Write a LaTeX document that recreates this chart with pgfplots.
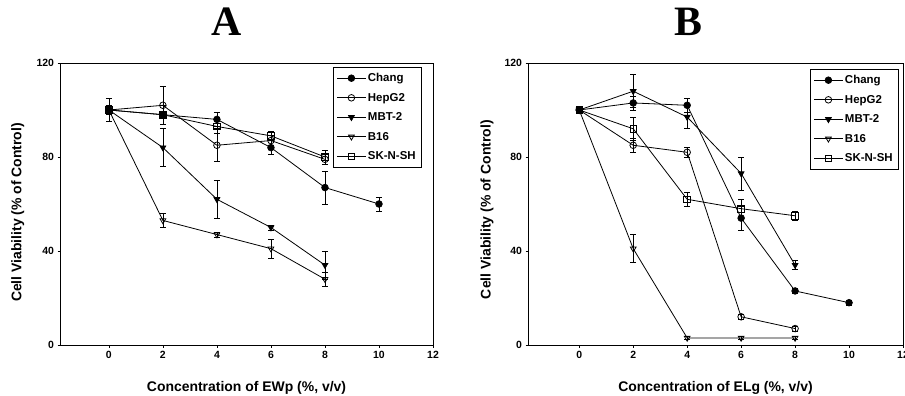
\documentclass[border=0pt]{standalone}
\usepackage{pgfplots}
\pgfplotsset{compat=1.18}
\usepackage{fontspec}
\setmainfont{Liberation Sans}
\newfontfamily\titlefont{Liberation Serif}
\pgfplotsset{
  panel/.style={
    scale only axis, anchor=south west,
    height=282bp, ymin=0, ymax=120, xmax=12,
    ytick={0,40,80,120}, xtick={0,2,4,6,8,10,12},
    xtick pos=left, ytick pos=left,
    axis line style={line width=0.8pt},
    tick align=outside, major tick length=2.5bp,
    tick style={line width=0.7pt, black},
    /pgf/number format/assume math mode=true,
    ticklabel style={font=\fontsize{10.5}{12}\selectfont\bfseries},
    label style={font=\fontsize{14}{16}\selectfont\bfseries},
    title style={font=\titlefont\fontsize{42}{44}\selectfont\bfseries, anchor=center},
    legend style={font=\fontsize{11.5}{13}\selectfont\bfseries, draw=black, line width=0.6pt,
      anchor=north east, cells={anchor=west}, row sep=6bp, inner xsep=4bp, inner ysep=4bp},
    legend cell align=left,
    legend image code/.code={\draw[mark repeat=2,mark phase=2] plot coordinates {(0cm,0cm) (0.5cm,0cm) (1cm,0cm)};},
  },
  ser/.style={black, line width=0.8pt, mark size=3.3bp,
    error bars/y dir=both, error bars/y explicit,
    error bars/error bar style={line width=0.7pt, black},
    error bars/error mark options={rotate=90, mark size=3bp, line width=0.7pt, black}},
}
\begin{document}
\begin{tikzpicture}
\path[use as bounding box] (0,0) rectangle (905bp,396bp);
% Panel A
\begin{axis}[panel, at={(60bp,51bp)}, width=373bp, xmin=-1.81,
  title={A}, title style={at={(0.448,1.124)}},
  xlabel={Concentration of EWp (\%, v/v)},
  ylabel={Cell Viability (\% of Control)},
  xlabel style={at={(axis description cs:0.5,-0.152)}, anchor=center},
  ylabel style={at={(axis description cs:-0.113,0.47)}, anchor=center, rotate=0},
  legend style={at={(rel axis cs:1,1)}, xshift=-11bp, yshift=-4bp}]
\addplot[ser, mark=*] coordinates {(0,100) +- (0,2) (2,98) +- (0,4) (4,96) +- (0,3) (6,84) +- (0,3) (8,67) +- (0,7) (10,60) +- (0,3)};
\addlegendentry{Chang}
\addplot[ser, mark=o, mark options={fill=white}] coordinates {(0,100) +- (0,5) (2,102) +- (0,8) (4,85) +- (0,7) (6,87) +- (0,2) (8,79) +- (0,2)};
\addlegendentry{HepG2}
\addplot[ser, mark=triangle*, mark options={rotate=180}] coordinates {(0,100) +- (0,2) (2,84) +- (0,8) (4,62) +- (0,8) (6,50) +- (0,1) (8,34) +- (0,6)};
\addlegendentry{MBT-2}
\addplot[ser, mark=triangle, mark options={rotate=180, fill=white}] coordinates {(0,100) +- (0,2) (2,53) +- (0,3) (4,47) +- (0,1) (6,41) +- (0,4) (8,28) +- (0,3)};
\addlegendentry{B16}
\addplot[ser, mark=square, mark options={fill=white}] coordinates {(0,100) +- (0,2) (2,98) +- (0,1) (4,93) +- (0,3) (6,89) +- (0,2) (8,80) +- (0,3)};
\addlegendentry{SK-N-SH}
\end{axis}
% Panel B
\begin{axis}[panel, at={(528bp,51bp)}, width=375bp, xmin=-1.9,
  title={B}, title style={at={(0.427,1.124)}},
  xlabel={Concentration of ELg (\%, v/v)},
  ylabel={Cell Viability (\% of Control)},
  xlabel style={at={(axis description cs:0.5,-0.152)}, anchor=center},
  ylabel style={at={(axis description cs:-0.109,0.48)}, anchor=center, rotate=0},
  legend style={at={(rel axis cs:1,1)}, xshift=-4bp, yshift=-6bp}]
\addplot[ser, mark=*] coordinates {(0,100) +- (0,1) (2,103) +- (0,3) (4,102) +- (0,3) (6,54) +- (0,5) (8,23) +- (0,1) (10,18) +- (0,1)};
\addlegendentry{Chang}
\addplot[ser, mark=o, mark options={fill=white}] coordinates {(0,100) +- (0,1) (2,85) +- (0,3) (4,82) +- (0,2) (6,12) +- (0,1) (8,7) +- (0,1)};
\addlegendentry{HepG2}
\addplot[ser, mark=triangle*, mark options={rotate=180}] coordinates {(0,100) +- (0,1) (2,108) +- (0,7) (4,97) +- (0,5) (6,73) +- (0,7) (8,34) +- (0,2)};
\addlegendentry{MBT-2}
\addplot[ser, mark=triangle, mark options={rotate=180, fill=white}] coordinates {(0,100) +- (0,1) (2,41) +- (0,6) (4,3) +- (0,0.5) (6,3) +- (0,0.5) (8,3) +- (0,0.5)};
\addlegendentry{B16}
\addplot[ser, mark=square, mark options={fill=white}] coordinates {(0,100) +- (0,1) (2,92) +- (0,5) (4,62) +- (0,3) (6,58) +- (0,4) (8,55) +- (0,2)};
\addlegendentry{SK-N-SH}
\end{axis}
\end{tikzpicture}
\end{document}
